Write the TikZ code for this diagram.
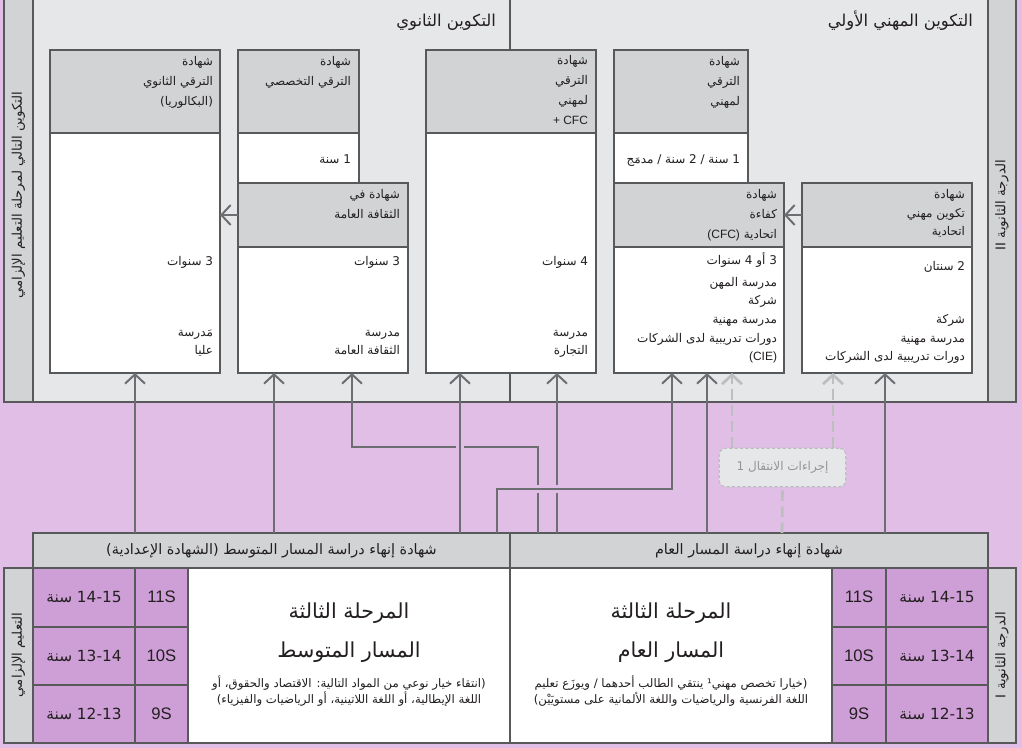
\documentclass[tikz,border=0pt]{standalone}
\usepackage{fontspec}
\setmainfont{Liberation Sans}
\newfontfamily\arabicfont[Script=Arabic]{DejaVu Sans}
\TeXXeTstate=1
\usetikzlibrary{arrows.meta,fit}
\newcommand\AR[1]{{\arabicfont\beginR #1\endR}}
\definecolor{lilac}{HTML}{E1BEE5}
\definecolor{cell}{HTML}{CE9FD6}
\definecolor{lgray}{HTML}{E6E7E8}
\definecolor{mgray}{HTML}{D1D3D4}
\definecolor{bord}{HTML}{58595B}
\definecolor{arrc}{HTML}{6D6E71}
\definecolor{dashc}{HTML}{BCBEC0}
\definecolor{txt}{HTML}{231F20}
\definecolor{ttxt}{HTML}{939598}
\tikzset{
  box/.style={draw=bord, line width=0.8pt, inner sep=0pt, outer sep=0pt},
  hd/.style={box, fill=mgray},
  wb/.style={box, fill=white},
  lc/.style={box, fill=cell},
  tx/.style={inner sep=0pt, outer sep=0pt, text=txt, align=right, font=\fontsize{9}{15}\selectfont},
  tb/.style={tx, font=\fontsize{9}{14}\selectfont},
  side/.style={inner sep=0pt, text=txt, rotate=90, font=\fontsize{10}{12}\selectfont},
  celltx/.style={inner sep=0pt, text=txt, text height=8pt, text depth=0pt, font=\fontsize{11.5}{13}\selectfont},
  stx/.style={celltx, font=\fontsize{12.5}{14}\selectfont},
  arr/.style={draw=arrc, line width=1.5pt, -{Straight Barb[length=7pt,width=15pt]}},
  darr/.style={draw=dashc, line width=2pt, dash pattern=on 8pt off 4pt, -{Straight Barb[length=7pt,width=15pt]}},
  dconn/.style={draw=dashc, line width=2pt, dash pattern=on 8pt off 4pt},
  halo/.style={draw=lilac, line width=6pt},
  transbox/.style={draw=dashc, dash pattern=on 2.5pt off 1.5pt, line width=0.9pt, fill=lgray, rounded corners=5pt, minimum width=95pt, minimum height=29pt, inner sep=0pt, text=ttxt, font=\fontsize{9}{10}\selectfont},
  big/.style={inner sep=0pt, text=txt, font=\fontsize{15.5}{18}\selectfont},
  par/.style={inner sep=0pt, text=txt, align=center, font=\fontsize{8.8}{10.5}\selectfont},
  hdt/.style={inner sep=0pt, text=txt, font=\fontsize{10.8}{12}\selectfont},
  ttl/.style={tx, font=\fontsize{12.3}{14}\selectfont},
}
\begin{document}
\begin{tikzpicture}[x=0.75pt,y=-0.75pt]
\useasboundingbox (0,0) rectangle (1022,748);
\clip (0,0) rectangle (1022,748);
\fill[lilac] (0,0) rectangle (1022,748);

% ---------- upper region ----------
\node[box, fill=lgray, fit={(4,-3)(1016,402)}] (top) {};
\node[hd, fit={(4,-3)(33,402)}] (barTL) {};
\node[hd, fit={(988,-3)(1016,402)}] (barTR) {};
\draw[draw=bord, line width=0.8pt] (510,-3) -- (510,402);
\node[side] (sTL) at (18.5,195) {\AR{التكوين التالي لمرحلة التعليم الإلزامي}};
\node[side] (sTR) at (1002,205) {\AR{الدرجة الثانوية II}};

\node[ttl, anchor=base east] (ttl1) at (496,27) {\AR{التكوين الثانوي}};
\node[ttl, anchor=base east] (ttl2) at (973,27) {\AR{التكوين المهني الأولي}};

% boxes
\node[hd, fit={(50,50)(220,133)}] (b1h) {};
\node[wb, fit={(50,133)(220,373)}] (b1b) {};
\node[hd, fit={(238,50)(359,133)}] (b2h) {};
\node[wb, fit={(238,133)(359,183)}] (b2b) {};
\node[hd, fit={(238,183)(408,247)}] (b2ch) {};
\node[wb, fit={(238,247)(408,373)}] (b2cb) {};
\node[hd, fit={(426,50)(596,133)}] (b3h) {};
\node[wb, fit={(426,133)(596,373)}] (b3b) {};
\node[hd, fit={(614,50)(748,133)}] (b4h) {};
\node[wb, fit={(614,133)(748,183)}] (b4b) {};
\node[hd, fit={(614,183)(784,247)}] (b4ch) {};
\node[wb, fit={(614,247)(784,373)}] (b4cb) {};
\node[hd, fit={(802,183)(972,247)}] (b5h) {};
\node[wb, fit={(802,247)(972,373)}] (b5b) {};

% box texts (anchor = baseline of the last line)
\node[tx, anchor=base east] (t1h) at (213,106) {\AR{شهادة}\\\AR{الترقي الثانوي}\\\AR{(البكالوريا)}};
\node[tx, anchor=base east] (t1d) at (213,266) {\AR{3 سنوات}};
\node[tb, anchor=base east] (t1s) at (213,355) {\AR{مَدرسة}\\\AR{عليا}};

\node[tx, anchor=base east] (t2h) at (351,86) {\AR{شهادة}\\\AR{الترقي التخصصي}};
\node[tx, anchor=base east] (t2d) at (351,164) {\AR{1 سنة}};

\node[tx, anchor=base east] (t2ch) at (400,219) {\AR{شهادة في}\\\AR{الثقافة العامة}};
\node[tx, anchor=base east] (t2cd) at (400,266) {\AR{3 سنوات}};
\node[tb, anchor=base east] (t2cs) at (400,355) {\AR{مدرسة}\\\AR{الثقافة العامة}};

\node[tx, anchor=base east] (t3h) at (588,125) {\AR{شهادة}\\\AR{الترقي}\\\AR{لمهني}\\+ CFC};
\node[tx, anchor=base east] (t3d) at (588,266) {\AR{4 سنوات}};
\node[tb, anchor=base east] (t3s) at (588,355) {\AR{مدرسة}\\\AR{التجارة}};

\node[tx, anchor=base east] (t4h) at (740,106) {\AR{شهادة}\\\AR{الترقي}\\\AR{لمهني}};
\node[tx, anchor=base east] (t4d) at (740,164) {\AR{1 سنة / 2 سنة / مدمَج}};

\node[tx, anchor=base east] (t4ch) at (777,239) {\AR{شهادة}\\\AR{كفاءة}\\\AR{اتحادية \beginL{\rmfamily(CFC)}\endL}};
\node[tx, anchor=base east] (t4cd) at (777,265) {\AR{3 أو 4 سنوات}};
\node[tb, anchor=base east] (t4cs) at (777,361) {\AR{مدرسة المهن}\\\AR{شركة}\\\AR{مدرسة مهنية}\\\AR{دورات تدريبية لدى الشركات}\\(CIE)};

\node[tb, anchor=base east] (t5h) at (965,236) {\AR{شهادة}\\\AR{تكوين مهني}\\\AR{اتحادية}};
\node[tx, anchor=base east] (t5d) at (965,271) {\AR{2 سنتان}};
\node[tb, anchor=base east] (t5s) at (965,361) {\AR{شركة}\\\AR{مدرسة مهنية}\\\AR{دورات تدريبية لدى الشركات}};

% horizontal arrows
\draw[arr] (b2ch.west) -- (b1b.east |- b2ch.west);
\draw[arr] (b5h.west) -- (b4ch.east |- b5h.west);

% ---------- lower region ----------
\node[hd, fit={(33,533)(510,568)}] (hdrL) {};
\node[hd, fit={(510,533)(988,568)}] (hdrR) {};
\node[hdt, anchor=base] (hdrLt) at (271.5,555) {\AR{شهادة إنهاء دراسة المسار المتوسط (الشهادة الإعدادية)}};
\node[hdt, anchor=base] (hdrRt) at (749,555) {\AR{شهادة إنهاء دراسة المسار العام}};

\node[hd, fit={(4,568)(33,743)}] (barBL) {};
\node[hd, fit={(988,568)(1016,743)}] (barBR) {};
\node[side] (sBL) at (18.5,655) {\AR{التعليم الإلزامي}};
\node[side] (sBR) at (1002,655) {\AR{الدرجة الثانوية I}};

\node[lc, fit={(33,568)(135,627)}] (aL1) {};
\node[lc, fit={(33,627)(135,685)}] (aL2) {};
\node[lc, fit={(33,685)(135,743)}] (aL3) {};
\node[lc, fit={(135,568)(188,627)}] (sL1) {};
\node[lc, fit={(135,627)(188,685)}] (sL2) {};
\node[lc, fit={(135,685)(188,743)}] (sL3) {};
\node[wb, fit={(188,568)(510,743)}] (wL) {};
\node[wb, fit={(510,568)(832,743)}] (wR) {};
\node[lc, fit={(832,568)(886,627)}] (sR1) {};
\node[lc, fit={(832,627)(886,685)}] (sR2) {};
\node[lc, fit={(832,685)(886,743)}] (sR3) {};
\node[lc, fit={(886,568)(988,627)}] (aR1) {};
\node[lc, fit={(886,627)(988,685)}] (aR2) {};
\node[lc, fit={(886,685)(988,743)}] (aR3) {};

\node[celltx] (aL1t) at (aL1.center) {\AR{14-15 سنة}};
\node[celltx] (aL2t) at (aL2.center) {\AR{13-14 سنة}};
\node[celltx] (aL3t) at (aL3.center) {\AR{12-13 سنة}};
\node[stx] (sL1t) at (sL1.center) {11S};
\node[stx] (sL2t) at (sL2.center) {10S};
\node[stx] (sL3t) at (sL3.center) {9S};
\node[stx] (sR1t) at (sR1.center) {11S};
\node[stx] (sR2t) at (sR2.center) {10S};
\node[stx] (sR3t) at (sR3.center) {9S};
\node[celltx] (aR1t) at (aR1.center) {\AR{14-15 سنة}};
\node[celltx] (aR2t) at (aR2.center) {\AR{13-14 سنة}};
\node[celltx] (aR3t) at (aR3.center) {\AR{12-13 سنة}};

\node[big] (wL1) at (349,613) {\AR{المرحلة الثالثة}};
\node[big] (wL2) at (349,652) {\AR{المسار المتوسط}};
\node[par] (wL3) at (349,691) {\AR{(انتقاء خيار نوعي من المواد التالية: الاقتصاد والحقوق، أو}\\\AR{اللغة الإيطالية، أو اللغة اللاتينية، أو الرياضيات والفيزياء)}};
\node[big] (wR1) at (671,613) {\AR{المرحلة الثالثة}};
\node[big] (wR2) at (671,652) {\AR{المسار العام}};
\node[par] (wR3) at (671,691) {\AR{(خيارا تخصص مهني¹ ينتقي الطالب أحدهما / ويوزَع تعليم}\\\AR{اللغة الفرنسية والرياضيات واللغة الألمانية على مستويَيْن)}};

% ---------- connectors ----------
\draw[arr] (135,0 |- hdrL.north) -- (135,0 |- b1b.south);
\draw[arr] (274,0 |- hdrL.north) -- (274,0 |- b2cb.south);
\draw[arr] (538,0 |- hdrR.north) -- (538,447) -- (352,447) -- (352,0 |- b2cb.south);
\draw[halo] (460,441) -- (460,453);
\draw[arr] (460,0 |- hdrL.north) -- (460,0 |- b3b.south);
\draw[arr] (557,0 |- hdrR.north) -- (557,0 |- b3b.south);
\draw[halo] (532,489) -- (544,489);
\draw[halo] (551,489) -- (563,489);
\draw[arr] (497,0 |- hdrL.north) -- (497,489) -- (672,489) -- (672,0 |- b4cb.south);
\draw[arr] (707,0 |- hdrR.north) -- (707,0 |- b4cb.south);
\draw[arr] (885,0 |- hdrR.north) -- (885,0 |- b5b.south);

\node[transbox] (trans) at (782.5,467.5) {\AR{إجراءات الانتقال 1}};
\draw[darr] (732,0 |- trans.north) -- (732,0 |- b4cb.south);
\draw[darr] (833,0 |- trans.north) -- (833,0 |- b5b.south);
\draw[dconn] (782,0 |- hdrR.north) -- (trans.south);
\end{tikzpicture}
\end{document}
